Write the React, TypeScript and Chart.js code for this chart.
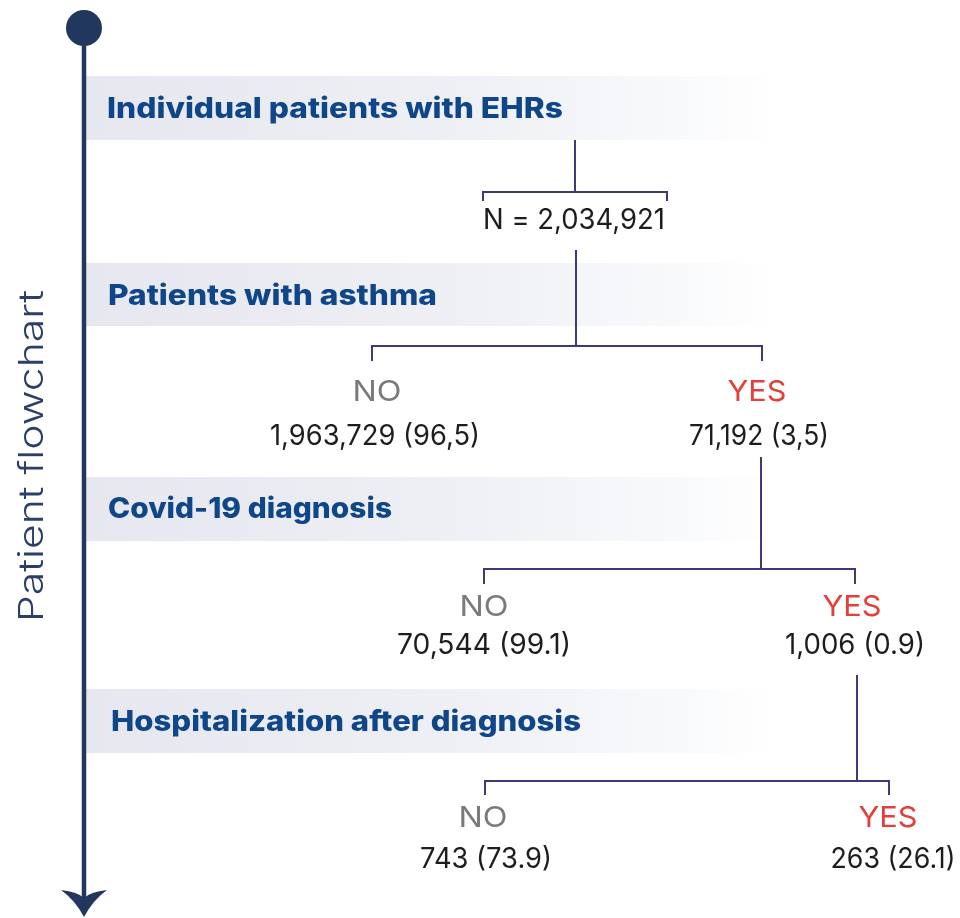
import React, { useEffect, useRef } from "react";
import { Chart, registerables } from "chart.js";

Chart.register(...registerables);

// ---------------- data ----------------
const stages = [
  "Individual patients with EHRs",
  "Patients with asthma",
  "Covid-19 diagnosis",
  "Hospitalization after diagnosis",
];
const totalPatients = "2,034,921";
const branchLabels = ["NO", "YES"];
const noCounts = ["1,963,729", "70,544", "743"];
const noPercents = ["96,5", "99.1", "73.9"];
const yesCounts = ["71,192", "1,006", "263"];
const yesPercents = ["3,5", "0.9", "26.1"];
const axisTitle = "Patient flowchart";

// ---------------- layout (value space = 960 x 918 px) ----------------
const W = 960;
const H = 918;
const AXIS_X = 84;
const AXIS_TOP = 28;
const AXIS_END = 900;
const BAND_LEFT = 86;
const BAND_RIGHT = 776;
const bandTop = [76, 263, 477, 689];
const bandBottom = [140, 326, 541, 753];
const bandTextX = [107, 108, 108, 111];
const bandTextBaseline = [118, 305, 518, 731];
const bandTextW = [456, 329, 284, 470];

const ROOT = { x: 575, y0: 140, y1: 192, left: 483, right: 667, tick: 201, textY: 229, textW: 182 };

const splitStemX = [576, 761, 857];
const splitStemTop = [250, 457, 675];
const splitBarY = [346, 569, 781];
const splitTickY = [361, 584, 795];
const noTickX = [372, 484, 485];
const yesTickX = [762, 855, 889];
const noLabelX = [377, 484, 483];
const yesLabelX = [757, 852, 888];
const labelBaseline = [401, 616, 827];
const noValueX = [375, 484, 486];
const yesValueX = [759, 855, 893];
const valueBaseline = [445, 654, 868];
const noValueW = [210, 174, 132];
const yesValueW = [140, 140, 125];

const NAVY = "#22375e";
const TREE = "#3d3a7a";
const HEAD = "#0f4689";
const GREY_TXT = "#7a7a7a";
const RED_TXT = "#e2413b";
const BODY_TXT = "#1d1d1d";
const FONT = "Inter, 'Open Sans', sans-serif";

function seg(points: number[][], color = TREE, width = 2) {
  return {
    data: points.map(([x, y]) => ({ x, y })),
    showLine: true,
    borderColor: color,
    borderWidth: width,
    pointRadius: 0,
    fill: false,
    tension: 0,
    borderCapStyle: "butt" as const,
    borderJoinStyle: "miter" as const,
  };
}

function drawText(
  ctx: CanvasRenderingContext2D,
  text: string,
  x: number,
  y: number,
  o: { size: number; weight: number; color: string; align: CanvasTextAlign; width?: number }
) {
  ctx.save();
  ctx.font = `${o.weight} ${o.size}px ${FONT}`;
  ctx.fillStyle = o.color;
  ctx.textBaseline = "alphabetic";
  ctx.textAlign = o.align;
  const m = ctx.measureText(text).width;
  const sx = o.width ? o.width / m : 1;
  ctx.translate(x, y);
  ctx.scale(sx, 1);
  ctx.fillText(text, 0, 0);
  ctx.restore();
}

const flowPlugin = {
  id: "flowDecor",
  beforeDatasetsDraw(chart: any) {
    const { ctx } = chart;
    const xs = chart.scales.x;
    const ys = chart.scales.y;
    stages.forEach((_, i) => {
      const x0 = xs.getPixelForValue(BAND_LEFT);
      const x1 = xs.getPixelForValue(BAND_RIGHT);
      const y0 = ys.getPixelForValue(bandTop[i]);
      const y1 = ys.getPixelForValue(bandBottom[i]);
      const g = ctx.createLinearGradient(x0, 0, x1, 0);
      g.addColorStop(0, "#e6e7ef");
      g.addColorStop(0.55, "#eff0f5");
      g.addColorStop(0.85, "#f8f9fb");
      g.addColorStop(1, "#ffffff");
      ctx.save();
      ctx.fillStyle = g;
      ctx.fillRect(x0, y0, x1 - x0, y1 - y0);
      ctx.restore();
    });
  },
  afterDatasetsDraw(chart: any) {
    const { ctx } = chart;
    const xs = chart.scales.x;
    const ys = chart.scales.y;
    const px = (v: number) => xs.getPixelForValue(v);
    const py = (v: number) => ys.getPixelForValue(v);

    // arrow head
    ctx.save();
    ctx.fillStyle = NAVY;
    ctx.beginPath();
    ctx.moveTo(px(AXIS_X), py(917));
    ctx.quadraticCurveTo(px(AXIS_X - 9), py(900), px(AXIS_X - 23), py(890));
    ctx.quadraticCurveTo(px(AXIS_X - 6), py(892), px(AXIS_X), py(898));
    ctx.quadraticCurveTo(px(AXIS_X + 6), py(892), px(AXIS_X + 23), py(890));
    ctx.quadraticCurveTo(px(AXIS_X + 9), py(900), px(AXIS_X), py(917));
    ctx.closePath();
    ctx.fill();
    ctx.restore();

    // axis title (rotated)
    ctx.save();
    ctx.translate(px(43), py(456));
    ctx.rotate(-Math.PI / 2);
    drawText(ctx, axisTitle, 0, 0, { size: 34, weight: 300, color: "#2c3f68", align: "center", width: 332 });
    ctx.restore();

    // stage headers
    stages.forEach((s, i) => {
      drawText(ctx, s, px(bandTextX[i]), py(bandTextBaseline[i]), {
        size: 28, weight: 800, color: HEAD, align: "left", width: bandTextW[i],
      });
    });

    // total
    drawText(ctx, `N = ${totalPatients}`, px(ROOT.x - 1), py(ROOT.textY), {
      size: 28, weight: 400, color: BODY_TXT, align: "center", width: ROOT.textW,
    });

    // branches
    for (let i = 0; i < 3; i++) {
      drawText(ctx, branchLabels[0], px(noLabelX[i]), py(labelBaseline[i]), {
        size: 29, weight: 400, color: GREY_TXT, align: "center", width: 49,
      });
      drawText(ctx, branchLabels[1], px(yesLabelX[i]), py(labelBaseline[i]), {
        size: 29, weight: 400, color: RED_TXT, align: "center", width: 59,
      });
      drawText(ctx, `${noCounts[i]} (${noPercents[i]})`, px(noValueX[i]), py(valueBaseline[i]), {
        size: 28, weight: 400, color: BODY_TXT, align: "center", width: noValueW[i],
      });
      drawText(ctx, `${yesCounts[i]} (${yesPercents[i]})`, px(yesValueX[i]), py(valueBaseline[i]), {
        size: 28, weight: 400, color: BODY_TXT, align: "center", width: yesValueW[i],
      });
    }
  },
};

export default function App() {
  const ref = useRef<HTMLCanvasElement | null>(null);

  useEffect(() => {
    if (!ref.current) return;
    const datasets: any[] = [];
    // main axis with start dot
    datasets.push({
      data: [{ x: AXIS_X, y: AXIS_TOP }, { x: AXIS_X, y: AXIS_END }],
      showLine: true,
      borderColor: NAVY,
      borderWidth: 4.5,
      pointRadius: [18, 0],
      pointBackgroundColor: NAVY,
      pointBorderWidth: 0,
      pointBorderColor: NAVY,
      clip: false,
    });
    // root stem & bracket
    datasets.push(seg([[ROOT.x, ROOT.y0], [ROOT.x, ROOT.y1]]));
    datasets.push(seg([[ROOT.left, ROOT.tick], [ROOT.left, ROOT.y1], [ROOT.right, ROOT.y1], [ROOT.right, ROOT.tick]]));
    // splits
    for (let i = 0; i < 3; i++) {
      datasets.push(seg([[splitStemX[i], splitStemTop[i]], [splitStemX[i], splitBarY[i]]]));
      datasets.push(
        seg([
          [noTickX[i], splitTickY[i]],
          [noTickX[i], splitBarY[i]],
          [yesTickX[i], splitBarY[i]],
          [yesTickX[i], splitTickY[i]],
        ])
      );
    }

    const chart = new Chart(ref.current, {
      type: "scatter",
      data: { datasets },
      options: {
        animation: false,
        responsive: false,
        events: [],
        layout: { padding: 0, autoPadding: false },
        plugins: { legend: { display: false }, tooltip: { enabled: false } },
        scales: {
          x: { type: "linear", min: 0, max: W, display: false },
          y: { type: "linear", min: 0, max: H, reverse: true, display: false },
        },
      },
      plugins: [flowPlugin],
    } as any);
    return () => chart.destroy();
  }, []);

  return (
    <div style={{ position: "absolute", left: 0, top: 0, width: W, height: H, background: "#ffffff" }}>
      <canvas ref={ref} width={W} height={H} style={{ display: "block", width: W, height: H }} />
    </div>
  );
}
